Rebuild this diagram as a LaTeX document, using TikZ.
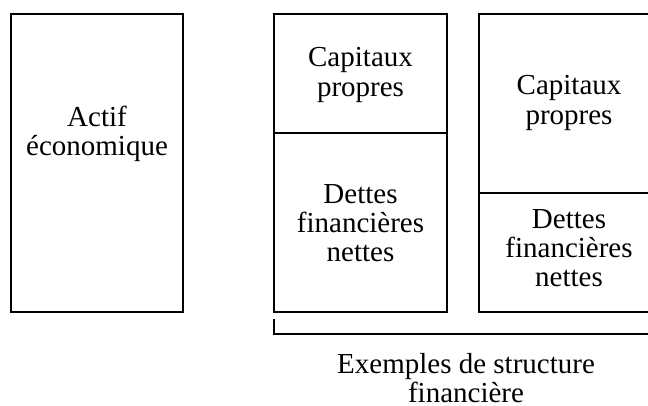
\documentclass[tikz,border=0pt]{standalone}
\usepackage{fontspec}
\setmainfont{Liberation Serif}
\begin{document}
\begin{tikzpicture}[x=0.75pt,y=-0.75pt,
  box/.style={draw=black,line width=1.5pt},
  lbl/.style={align=center,inner sep=0pt,font=\fontsize{21.75}{22}\selectfont}]
\clip (0,0) rectangle (648,405);
\fill[white] (0,0) rectangle (648,405);
% left box
\draw[box] (11,14) rectangle (183,312);
% middle box
\draw[box] (274,14) rectangle (447,312);
\draw[box] (274,133) -- (447,133);
% right box
\draw[box] (479,14) rectangle (660,312);
\draw[box] (479,193) -- (660,193);
% text
\node[lbl] (actif) at (97,134) {Actif\\économique};
\node[lbl] (cp1) at (360.5,75) {Capitaux\\propres};
\node[lbl] (dfn1) at (360.5,223) {Dettes\\financières\\nettes};
\node[lbl] (cp2) at (569,103) {Capitaux\\propres};
\node[lbl] (dfn2) at (569,248) {Dettes\\financières\\nettes};
\node[lbl] (ex) at (466,378) {Exemples de structure\\financière};
% bracket
\coordinate (b1) at (274,319);
\coordinate (b2) at (274,334);
\coordinate (b3) at (660,334);
\draw[box] (b1) -- (b2) -- (b3);
\end{tikzpicture}
\end{document}
